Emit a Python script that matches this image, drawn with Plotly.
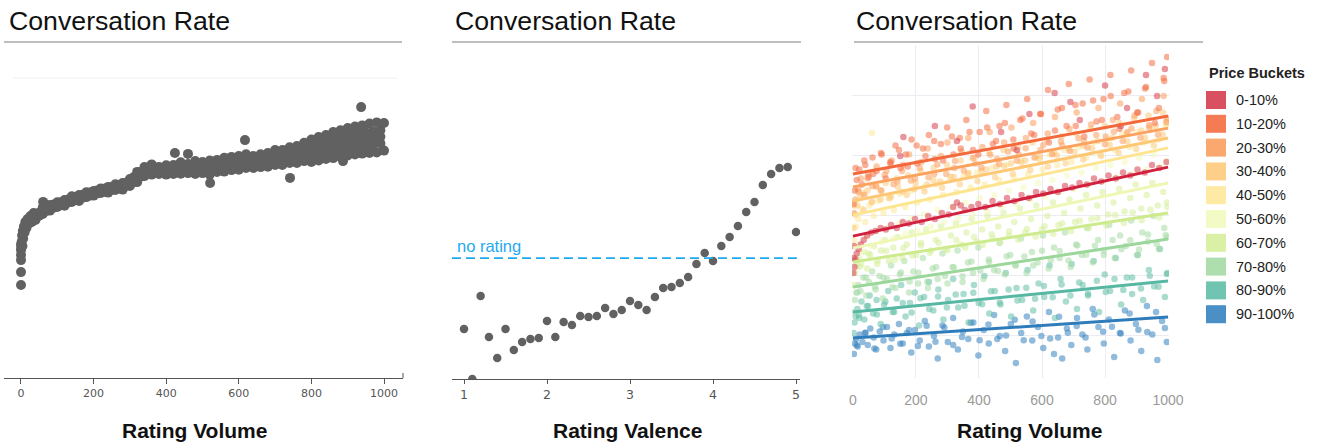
import plotly.graph_objects as go

W, H = 1319, 444


def PX(x):
    return x / W


def PY(y):
    return 1 - y / H


TITLE = "Conversation Rate"

# ---------------- Panel 1: Rating Volume (grey band) ----------------
vol_x_row = [40, 60, 80, 100, 120, 140, 160, 180, 200, 220, 240, 260, 280, 300, 320, 340, 360, 380,
             400, 420, 440, 460, 480, 500, 520, 540, 560, 580, 600, 620, 640, 660, 680, 700, 720,
             740, 760, 780, 800, 820, 840, 860, 880, 900, 920, 940, 960, 980, 1000]
vol_y_upper = [54.7, 56.8, 57.7, 58.6, 59.3, 60.6, 61.0, 61.9, 62.3, 63.2, 63.7, 64.6, 65.0, 66.3,
               68.7, 70.3, 71.2, 70.3, 70.9, 71.0, 71.9, 71.3, 72.3, 72.0, 72.5, 72.7, 73.4, 73.7,
               74.0, 74.6, 74.0, 74.6, 75.0, 76.0, 76.0, 76.9, 77.3, 78.4, 79.5, 80.3, 81.0, 82.0,
               82.6, 83.3, 83.8, 84.2, 84.8, 85.2, 85.0]
vol_y_lower = [52.7, 54.7, 55.8, 57.0, 57.4, 58.7, 59.0, 60.3, 60.8, 61.7, 61.8, 62.7, 62.8, 64.0,
               65.3, 67.3, 67.8, 68.0, 67.8, 68.0, 68.1, 68.3, 68.0, 68.3, 67.8, 68.7, 68.8, 69.3,
               69.4, 70.0, 70.0, 70.3, 70.4, 71.0, 71.0, 71.7, 71.7, 72.3, 72.0, 72.5, 73.0, 73.3,
               73.8, 74.2, 74.5, 74.8, 75.0, 75.2, 75.8]
vol_x_mid = [50, 70, 90, 110, 130, 150, 170, 190, 210, 230, 250, 270, 290, 310, 330, 350, 370, 390,
             410, 430, 450, 470, 490, 510, 530, 550, 570, 590, 610, 630, 650, 670, 690, 710, 730,
             750, 770, 790, 810, 830, 850, 870, 890, 910, 930, 950, 970, 990]
vol_y_mid = [54.6, 56.2, 57.3, 58.1, 59.0, 59.8, 60.6, 61.3, 62.0, 62.6, 63.2, 63.8, 64.6, 66.1,
             67.9, 69.1, 69.3, 69.3, 69.4, 69.8, 69.9, 70.0, 70.2, 70.2, 70.4, 70.9, 71.3, 71.7,
             72.0, 72.2, 72.2, 72.6, 73.1, 73.5, 73.9, 74.4, 74.9, 75.5, 76.1, 76.7, 77.3, 77.9,
             78.4, 78.8, 79.2, 79.6, 80.0, 80.4]
vol_y_mid_hi = [55.1, 56.7, 57.8, 58.6, 59.5, 60.3, 61.1, 61.8, 62.5, 63.1, 63.7, 64.3, 65.1,
                66.9, 68.7, 69.9, 70.1, 70.1, 70.2, 70.6, 70.7,
                71.0, 71.2, 71.2, 71.4, 71.9, 72.3, 72.7, 73.0, 73.2, 73.2,
                73.8, 74.3, 74.7, 75.1, 75.6, 76.1, 76.7,
                78.3, 78.9, 79.5, 80.1, 80.6, 81.0, 81.4, 81.8, 82.2, 82.6]
vol_y_mid_lo = [54.1, 55.7, 56.8, 57.6, 58.5, 59.3, 60.1, 60.8, 61.5, 62.1, 62.7, 63.3, 64.1,
                65.3, 67.1, 68.3, 68.5, 68.5, 68.6, 69.0, 69.1,
                69.0, 69.2, 69.2, 69.4, 69.9, 70.3, 70.7, 71.0, 71.2, 71.2,
                71.4, 71.9, 72.3, 72.7, 73.2, 73.7, 74.3,
                73.9, 74.5, 75.1, 75.7, 76.2, 76.6, 77.0, 77.4, 77.8, 78.2]
vol_x_start = [0, 0, 0, 0, 0, 0, 1, 2, 3, 4, 5, 6, 8, 10, 12, 15, 18, 22, 26, 30, 35, 61]
vol_y_start = [31.0, 35.3, 39.3, 41.0, 42.7, 44.5, 43.5, 45.5, 47.5, 44.0, 49.0, 46.5, 50.5, 48.5,
               52.0, 50.0, 53.0, 51.5, 54.0, 52.0, 55.0, 58.7]
vol_x_out = [937, 617, 741, 887, 521, 424, 460]
vol_y_out = [90.3, 79.3, 66.7, 72.3, 65.0, 75.0, 74.7]

# ---------------- Panel 2: Rating Valence ----------------
val_x = [1.0, 1.1, 1.2, 1.3, 1.4, 1.5, 1.6, 1.7, 1.8, 1.9, 2.0, 2.1, 2.2, 2.3, 2.4, 2.5, 2.6, 2.7,
         2.8, 2.9, 3.0, 3.1, 3.2, 3.3, 3.4, 3.5, 3.6, 3.7, 3.8, 3.9, 4.0, 4.1, 4.2, 4.3, 4.4, 4.5,
         4.6, 4.7, 4.8, 4.9, 5.0]
val_y = [16.7, 0.0, 27.7, 14.0, 7.0, 16.7, 9.7, 12.3, 13.3, 13.7, 19.3, 14.0, 19.0, 18.0, 21.0,
         20.7, 21.0, 23.7, 21.7, 23.0, 26.0, 24.7, 23.0, 27.3, 30.3, 30.7, 32.0, 34.0, 38.3, 42.0,
         39.3, 44.3, 47.3, 51.0, 55.7, 59.0, 64.7, 68.3, 70.3, 70.7, 49.0]
no_rating_level = 40.3
no_rating_label = "no rating"

# ---------------- Panel 3: Rating Volume by Price Bucket ----------------
bucket_names = ["0-10%", "10-20%", "20-30%", "30-40%", "40-50%",
                "50-60%", "60-70%", "70-80%", "80-90%", "90-100%"]
bucket_colors = ["#d53e4f", "#f46d43", "#fb9e5f", "#fdca7c", "#fee89a",
                 "#f3f9c0", "#d5ee9b", "#a5daa5", "#62bea6", "#3683bf"]
line_colors = ["#d2203f", "#f3693c", "#fba35e", "#fdc774", "#fde58f",
               "#eef7b4", "#cdea8c", "#9bd69b", "#56b7a2", "#2f7cbb"]
fit_x = [0, 1000]
fit_y_start = [47.3, 68.0, 63.7, 59.0, 54.3, 43.3, 38.7, 30.3, 22.0, 13.3]
fit_y_end = [70.3, 87.3, 83.3, 80.0, 76.7, 65.0, 55.0, 46.3, 32.3, 20.3]

b0_x = [1, 2, 3, 5, 8, 12, 18, 25, 34, 45, 58, 72, 88, 104, 121, 139, 158, 177, 197, 218, 239, 260,
        282, 304, 318, 330, 342, 355, 376, 398, 420, 443, 466, 489, 512, 535, 558, 581, 604, 627,
        650, 673, 696, 719, 742, 765, 788, 811, 834, 857, 880, 903, 926, 949, 972, 995,
        150, 160, 260, 330, 380, 470, 520, 560, 640, 690, 720, 800, 850, 870, 930, 965, 990]
b0_y = [35.0, 40.0, 44.0, 37.0, 39.5, 41.5, 43.0, 44.5, 46.0, 47.5, 48.5, 49.0, 50.0, 49.5, 51.0,
        50.0, 52.0, 51.5, 53.0, 52.0, 54.0, 53.0, 55.0, 54.5, 57.0, 58.5, 57.5, 56.0, 57.0, 58.0,
        57.0, 59.0, 58.0, 60.0, 59.0, 61.0, 60.0, 62.0, 61.5, 63.0, 62.0, 64.0, 63.5, 65.0, 64.5,
        66.5, 65.5, 67.5, 66.5, 68.5, 67.5, 69.5, 68.5, 71.0, 70.0, 72.0,
        74.0, 80.3, 84.0, 79.0, 90.5, 82.0, 76.0, 88.0, 95.0, 92.0, 86.0, 97.5, 84.0, 90.0, 101.0,
        94.0, 103.0]
b1_x = [2, 6, 12, 20, 29, 39, 50, 62, 75, 89, 104, 119, 135, 151, 168, 186, 204, 222, 241, 260, 279,
        299, 319, 339, 360, 381, 402, 423, 444, 465, 487, 509, 531, 553, 575, 597, 619, 641, 663,
        685, 707, 729, 751, 773, 795, 817, 839, 861, 883, 905, 927, 949, 971, 988, 997,
        8, 36, 64, 91, 119, 146, 174, 202, 230, 258, 286, 314, 342, 370, 398, 426, 454, 482, 510,
        538, 566, 594, 622, 650, 678, 706, 734, 762, 790, 818, 846, 874, 902, 930, 958, 986]
b1_y = [58.0, 62.5, 66.0, 69.5, 64.5, 71.0, 67.0, 73.5, 69.0, 75.0, 66.5, 72.0, 77.5, 70.0, 74.5,
        79.5, 71.5, 76.5, 81.0, 73.0, 78.0, 83.5, 74.5, 80.0, 86.0, 76.0, 82.0, 89.0, 78.0, 84.0,
        91.0, 79.5, 86.0, 93.0, 81.0, 88.0, 96.0, 82.5, 90.0, 98.0, 84.0, 91.5, 99.5, 85.5, 93.0,
        101.0, 87.0, 95.0, 102.5, 88.5, 96.5, 105.0, 90.0, 99.0, 107.0,
        70.0, 72.5, 68.0, 74.5, 71.5, 76.0, 70.5, 77.5, 74.0, 79.0, 72.5, 80.5, 76.5, 82.0, 74.5,
        83.5, 79.0, 85.0, 76.5, 86.5, 81.5, 88.0, 78.5, 89.5, 84.0, 91.0, 80.5, 92.5, 86.0, 94.0,
        83.0, 95.5, 88.5, 97.0, 85.0, 100.0]
b2_x = [3, 8, 16, 25, 36, 48, 61, 75, 90, 106, 123, 141, 159, 178, 197, 217, 237, 258, 279, 300,
        322, 344, 366, 388, 411, 434, 457, 480, 503, 526, 549, 572, 595, 618, 641, 664, 687, 710,
        733, 756, 779, 802, 825, 848, 871, 894, 917, 940, 963, 986, 998,
        18, 46, 74, 101, 129, 156, 184, 212, 240, 268, 296, 324, 352, 380, 408, 436, 464, 492, 520,
        548, 576, 604, 632, 660, 688, 716, 744, 772, 800, 828, 856, 884, 912, 940, 968, 994]
b2_y = [55.0, 59.5, 63.0, 66.5, 61.0, 68.0, 64.0, 70.5, 62.5, 69.0, 72.5, 65.5, 71.0, 74.5, 66.5,
        72.0, 76.5, 68.0, 74.0, 78.5, 70.0, 75.5, 80.0, 71.5, 77.0, 82.0, 73.0, 78.5, 83.5, 74.5,
        80.0, 85.0, 76.0, 81.5, 87.0, 77.5, 83.0, 88.5, 79.0, 84.5, 90.0, 80.5, 86.0, 91.5, 82.0,
        87.5, 93.0, 83.5, 89.0, 94.0, 86.5,
        62.0, 66.5, 63.8, 67.7, 64.6, 69.0, 65.8, 70.0, 66.9, 71.2, 68.0, 72.3, 69.1, 73.3, 70.2,
        74.4, 71.3, 75.5, 72.4, 76.6, 73.5, 77.7, 74.6, 78.8, 75.7, 79.9, 76.8, 81.0, 77.9, 82.1,
        79.0, 83.2, 80.1, 84.3, 81.2, 85.4]
b3_x = [2, 7, 14, 23, 34, 46, 59, 73, 88, 104, 121, 139, 157, 176, 195, 215, 235, 256, 277, 298,
        320, 342, 364, 386, 409, 432, 455, 478, 501, 524, 547, 570, 593, 616, 639, 662, 685, 708,
        731, 754, 777, 800, 823, 846, 869, 892, 915, 938, 961, 984, 997,
        5, 33, 61, 88, 116, 143, 171, 199, 227, 255, 283, 311, 339, 367, 395, 423, 451, 479, 507,
        535, 563, 591, 619, 647, 675, 703, 731, 759, 787, 815, 843, 871, 899, 927, 955, 983]
b3_y = [50.0, 54.5, 57.5, 61.0, 56.0, 62.5, 58.5, 64.0, 59.5, 65.0, 60.5, 66.5, 62.0, 67.5, 63.0,
        69.0, 64.5, 70.0, 65.5, 71.0, 67.0, 72.5, 68.0, 73.5, 69.0, 75.0, 70.5, 76.0, 71.5, 77.0,
        72.5, 78.5, 74.0, 79.5, 75.0, 80.5, 76.5, 81.5, 77.5, 83.0, 79.0, 84.0, 80.0, 85.0, 81.5,
        86.5, 82.5, 87.5, 84.0, 88.5, 85.0,
        57.5, 61.5, 58.8, 62.5, 59.9, 63.7, 61.0, 64.9, 62.2, 66.0, 63.4, 67.1, 64.6, 68.3, 65.7,
        69.5, 66.9, 70.7, 68.1, 71.8, 69.3, 73.0, 70.4, 74.2, 71.6, 75.4, 72.8, 76.5, 74.0, 77.7,
        75.1, 78.9, 76.3, 80.1, 77.5, 81.2]
b4_x = [3, 9, 17, 27, 39, 52, 60, 66, 81, 97, 113, 130, 148, 166, 185, 204, 224, 244, 265, 286,
        307, 329, 351, 373, 395, 418, 441, 464, 487, 510, 533, 556, 579, 602, 625, 648, 671, 694,
        717, 740, 763, 786, 809, 832, 855, 878, 901, 924, 947, 970, 993]
b4_y = [46.0, 50.5, 53.0, 56.5, 52.0, 57.5, 81.7, 54.0, 59.0, 55.0, 60.0, 56.0, 61.5, 57.0, 62.5,
        58.5, 63.5, 59.5, 64.5, 61.0, 66.0, 62.0, 67.0, 63.5, 68.5, 64.5, 70.0, 66.0, 71.0, 67.0,
        72.5, 68.0, 73.5, 69.5, 74.5, 71.0, 76.0, 72.0, 77.0, 73.5, 78.5, 74.5, 79.5, 76.0, 81.0,
        77.0, 82.0, 78.5, 83.0, 79.5, 84.0]
b5_x = [4, 15, 29, 43, 58, 74, 91, 109, 127, 146, 165, 185, 205, 226, 247, 268, 290, 312, 334, 357,
        380, 403, 426, 449, 472, 495, 518, 541, 564, 587, 610, 633, 656, 679, 702, 725, 748, 771,
        794, 817, 840, 863, 886, 909, 932, 955, 978, 996]
b5_y = [40.0, 44.5, 42.0, 47.0, 44.0, 49.0, 45.5, 50.0, 46.5, 51.5, 48.0, 53.0, 49.0, 54.5, 50.5,
        56.0, 52.0, 57.0, 53.0, 58.5, 54.5, 60.0, 55.5, 61.0, 57.0, 62.5, 58.0, 63.5, 59.5, 65.0,
        60.5, 66.0, 62.0, 67.5, 63.0, 68.5, 64.5, 70.0, 65.5, 71.0, 67.0, 72.0, 68.0, 73.5, 69.5,
        74.5, 70.5, 72.5]
b6_x = [3, 7, 12, 18, 26, 35, 45, 55, 66, 77, 89, 101, 114, 128, 142, 156, 171, 186, 201, 216, 232,
        247, 263, 279, 295, 311, 327, 344, 360, 377, 393, 410, 427, 444, 461, 478, 495, 512, 530,
        547, 565, 582, 600, 617, 635, 652, 670, 687, 705, 722, 740, 757, 775, 792, 810, 827, 845,
        862, 880, 897, 915, 932, 950, 967, 985, 997,
        22, 50, 78, 105, 133, 160, 188, 216, 244, 272, 300, 328, 356, 384, 412, 440, 468, 496, 524,
        552, 580, 608, 636, 664, 692, 720, 748, 776, 804, 832, 860, 888, 916, 944, 972, 998]
b6_y = [31.0, 35.0, 37.5, 40.0, 38.0, 42.0, 36.5, 41.0, 44.0, 38.0, 42.5, 46.0, 39.0, 43.5, 47.0,
        40.0, 44.5, 48.5, 41.0, 45.0, 49.5, 42.5, 46.0, 50.5, 43.0, 47.5, 51.5, 44.5, 48.5, 53.0,
        45.5, 49.5, 54.0, 46.5, 50.5, 55.0, 47.5, 52.0, 56.5, 48.5, 53.0, 57.5, 49.5, 54.0, 58.5,
        51.0, 55.0, 59.5, 52.0, 56.5, 61.0, 53.0, 57.5, 62.0, 54.5, 58.5, 63.0, 55.5, 60.0, 64.5,
        56.5, 61.0, 65.0, 57.5, 62.0, 58.5,
        37.1, 41.5, 39.0, 42.4, 39.4, 43.3, 40.8, 44.2, 41.7, 45.1, 42.6, 46.0, 43.5, 47.0, 44.4,
        47.9, 45.3, 48.8, 46.2, 49.7, 47.2, 50.6, 48.1, 51.5, 49.0, 52.4, 49.9, 53.3, 50.8, 54.3,
        51.7, 55.2, 52.6, 56.1, 53.5, 57.0]
b7_x = [2, 6, 11, 17, 24, 33, 42, 51, 61, 72, 84, 95, 108, 121, 135, 149, 163, 178, 192, 207, 222,
        238, 253, 269, 284, 300, 316, 332, 348, 365, 381, 398, 414, 431, 448, 465, 482, 499, 516,
        533, 551, 568, 586, 603, 621, 638, 656, 673, 691, 708, 726, 743, 761, 778, 796, 813, 831,
        848, 866, 883, 901, 918, 936, 953, 971, 988, 998,
        14, 42, 70, 97, 125, 152, 180, 208, 236, 264, 292, 320, 348, 376, 404, 432, 460, 488, 516,
        544, 572, 600, 628, 656, 684, 712, 740, 768, 796, 824, 852, 880, 908, 936, 964, 992]
b7_y = [22.0, 26.0, 28.5, 31.0, 29.0, 33.5, 27.5, 32.0, 35.5, 29.5, 34.0, 26.5, 33.0, 37.5, 30.0,
        34.5, 39.0, 28.5, 35.5, 31.5, 40.0, 30.0, 36.5, 33.0, 41.5, 31.5, 37.0, 42.5, 32.0, 38.5,
        35.0, 43.5, 33.0, 39.5, 36.0, 45.0, 34.5, 41.0, 37.5, 46.5, 35.0, 42.0, 38.5, 47.5, 36.5,
        43.5, 40.0, 48.5, 37.0, 44.5, 41.0, 50.0, 38.5, 46.0, 42.5, 51.0, 40.0, 47.5, 44.0, 52.5,
        41.0, 48.5, 45.5, 54.0, 43.0, 50.0, 47.0,
        28.5, 33.5, 30.4, 33.4, 30.3, 35.2, 32.2, 35.1, 32.1, 37.0, 34.0, 36.9, 33.9, 38.8, 35.8,
        38.7, 35.7, 40.6, 37.6, 40.5, 37.5, 42.4, 39.3, 42.3, 39.2, 44.2, 41.1, 44.1, 41.0, 46.0,
        42.9, 45.9, 42.8, 47.8, 44.7, 47.7]
b8_x = [2, 5, 9, 14, 19, 27, 36, 44, 53, 64, 75, 88, 99, 112, 126, 139, 153, 167, 181, 196, 210,
        226, 241, 255, 271, 287, 302, 318, 334, 351, 367, 384, 399, 417, 433, 450, 468, 485, 502,
        519, 537, 554, 572, 589, 607, 624, 641, 659, 676, 694, 711, 729, 746, 764, 781, 799, 816,
        834, 851, 869, 886, 904, 921, 939, 956, 974, 990, 998,
        20, 48, 76, 103, 131, 158, 186, 214, 242, 270, 298, 326, 354, 382, 410, 438, 466, 494, 522,
        550, 578, 606, 634, 662, 690, 718, 746, 774, 802, 830, 858, 886, 914, 942, 970, 996]
b8_y = [15.0, 18.5, 20.5, 23.0, 21.0, 25.5, 19.5, 24.0, 27.5, 21.5, 26.0, 18.0, 24.5, 29.0, 22.0,
        26.5, 31.0, 20.5, 25.0, 28.5, 17.5, 27.0, 32.0, 22.5, 29.5, 19.5, 26.0, 33.0, 23.5, 28.0,
        18.5, 31.0, 25.0, 34.0, 21.5, 29.0, 24.5, 35.0, 20.5, 30.0, 26.0, 36.0, 22.5, 31.5, 27.0,
        37.5, 20.0, 33.0, 25.5, 38.0, 23.0, 31.0, 27.5, 39.0, 22.0, 34.5, 29.0, 40.0, 24.5, 33.5,
        28.0, 41.0, 26.0, 36.0, 30.5, 43.0, 27.0, 35.0,
        20.0, 24.0, 21.2, 25.5, 22.0, 25.0, 21.8, 26.6, 23.0, 27.2, 23.5, 27.8, 24.1, 28.4, 24.6,
        28.9, 25.2, 29.5, 25.8, 30.1, 26.4, 30.7, 26.9, 31.2, 27.5, 31.8, 28.1, 32.4, 28.7, 33.0,
        29.3, 33.5, 29.8, 34.1, 30.4, 34.7]
b9_x = [3, 6, 10, 15, 21, 30, 38, 47, 55, 66, 74, 85, 97, 108, 119, 131, 146, 158, 171, 185, 197,
        212, 228, 241, 257, 269, 284, 301, 318, 333, 349, 366, 382, 398, 415, 431, 448, 466, 483,
        501, 517, 534, 552, 569, 587, 604, 622, 638, 651, 664, 679, 693, 711, 728, 744, 761, 779,
        796, 812, 829, 847, 863, 881, 898, 915, 933, 950, 966, 981, 996,
        12, 40, 68, 95, 123, 150, 178, 206, 234, 262, 290, 318, 346, 374, 402, 430, 458, 486, 514,
        542, 570, 598, 626, 654, 682, 710, 738, 766, 794, 822, 850, 878, 906, 934, 962, 990]
b9_y = [8.0, 11.5, 13.0, 10.5, 14.5, 12.0, 15.0, 11.0, 16.5, 13.5, 9.5, 15.5, 12.5, 17.0, 10.0,
        14.5, 18.0, 11.5, 15.0, 8.5, 16.0, 12.5, 19.0, 10.5, 14.0, 6.5, 17.5, 12.0, 20.0, 9.5, 15.5,
        13.0, 18.5, 7.5, 16.0, 11.5, 21.0, 14.0, 9.0, 18.0, 5.0, 15.0, 20.5, 12.5, 17.0, 10.0, 22.0,
        8.0, 13.5, 6.5, 16.5, 11.0, 20.0, 14.5, 9.5, 23.0, 17.0, 11.5, 19.5, 7.0, 15.0, 22.5, 12.5,
        18.0, 9.0, 24.0, 14.5, 6.0, 19.0, 12.0,
        10.9, 15.1, 9.8, 17.0, 13.2, 11.4, 16.0, 10.7, 17.4, 12.1, 16.8, 11.0, 13.7, 18.4, 12.6,
        17.8, 13.0, 14.2, 19.4, 12.6, 18.8, 14.0, 13.2, 20.4, 15.1, 17.3, 13.5, 21.2, 15.4, 17.1,
        14.8, 21.5, 16.1, 15.3, 22.0, 16.7]

bucket_xs = [b0_x, b1_x, b2_x, b3_x, b4_x, b5_x, b6_x, b7_x, b8_x, b9_x]
bucket_ys = [b0_y, b1_y, b2_y, b3_y, b4_y, b5_y, b6_y, b7_y, b8_y, b9_y]

vol_ticks = [0, 200, 400, 600, 800, 1000]
val_ticks = [1, 2, 3, 4, 5]

# ---------------- Figure ----------------
fig = go.Figure()
GREY = "#616161"

for xs, ys in [(vol_x_start, vol_y_start), (vol_x_row, vol_y_lower), (vol_x_mid, vol_y_mid_lo),
               (vol_x_mid, vol_y_mid), (vol_x_mid, vol_y_mid_hi), (vol_x_row, vol_y_upper),
               (vol_x_out, vol_y_out)]:
    fig.add_trace(go.Scatter(x=xs, y=ys, mode="markers", xaxis="x", yaxis="y",
                             marker=dict(size=10, color=GREY, line=dict(width=0)),
                             showlegend=False, hoverinfo="skip"))

fig.add_trace(go.Scatter(x=val_x, y=val_y, mode="markers", xaxis="x2", yaxis="y2",
                         marker=dict(size=8.5, color=GREY, line=dict(width=0)), showlegend=False))

for i in range(len(bucket_names) - 1, -1, -1):
    fig.add_trace(go.Scatter(x=bucket_xs[i], y=bucket_ys[i], mode="markers", xaxis="x3", yaxis="y3",
                             marker=dict(size=6.5, color=bucket_colors[i], opacity=0.55,
                                         line=dict(width=0)),
                             name=bucket_names[i], showlegend=False))
for i in range(len(bucket_names) - 1, -1, -1):
    fig.add_trace(go.Scatter(x=fit_x, y=[fit_y_start[i], fit_y_end[i]], mode="lines",
                             xaxis="x3", yaxis="y3", line=dict(color=line_colors[i], width=3),
                             showlegend=False, hoverinfo="skip"))

tickfont_small = dict(family="DejaVu Sans", size=11, color="#555555")

fig.update_layout(
    template="none",
    width=W, height=H, margin=dict(l=0, r=0, t=0, b=0, pad=0, autoexpand=False), autosize=False,
    paper_bgcolor="white", plot_bgcolor="white", showlegend=False,
    font=dict(family="Liberation Sans", color="#222222"),
    xaxis=dict(domain=[PX(4), PX(403)], range=[-46.8, 1052.3], anchor="y", automargin=False,
               showline=True, linecolor="#555555", linewidth=1, ticks="outside", ticklen=5,
               tickcolor="#555555", tickvals=vol_ticks, tickfont=tickfont_small,
               showgrid=False, zeroline=False),
    yaxis=dict(domain=[PY(378), PY(78)], range=[0, 100], anchor="x", visible=False,
               automargin=False),
    xaxis2=dict(domain=[PX(452), PX(800)], range=[0.855, 5.048], anchor="y2", automargin=False,
                showline=True, linecolor="#555555", linewidth=1, ticks="outside", ticklen=4,
                tickcolor="#555555", tickvals=val_ticks,
                tickfont=dict(family="DejaVu Sans", size=12.5, color="#555555"),
                showgrid=False, zeroline=False),
    yaxis2=dict(domain=[PY(379), PY(79)], range=[0, 100], anchor="x2", visible=False,
                automargin=False),
    xaxis3=dict(domain=[PX(852), PX(1169)], range=[-3, 1003], anchor="y3", automargin=False,
                showline=False, ticks="outside", ticklen=9, tickcolor="rgba(0,0,0,0)",
                tickvals=vol_ticks, tickfont=dict(family="Liberation Sans", size=14, color="#9a9a9a"),
                showgrid=True, gridcolor="#ececf2", gridwidth=1, zeroline=False),
    yaxis3=dict(domain=[PY(378), PY(45)], range=[0, 111], anchor="x3", automargin=False,
                showticklabels=False, ticks="", showline=False, zeroline=False,
                showgrid=True, gridcolor="#ececf2", tick0=14.33, dtick=20),
)

shapes = []
annotations = []

# titles + dividers
for tx, lx0, lx1 in [(7, 4, 402), (453, 452, 801), (854, 854, 1203)]:
    annotations.append(dict(text=TITLE, x=PX(tx), y=PY(21), xref="paper", yref="paper",
                            xanchor="left", yanchor="middle", showarrow=False,
                            font=dict(family="Liberation Sans", size=26.7, color="#111111")))
    shapes.append(dict(type="line", xref="paper", yref="paper", x0=PX(lx0), x1=PX(lx1),
                       y0=PY(42), y1=PY(42), line=dict(color="#a8a8a8", width=1.5)))

# axis titles
for txt, cx in [("Rating Volume", 194), ("Rating Valence", 627), ("Rating Volume", 1029)]:
    annotations.append(dict(text="<b>" + txt + "</b>", x=PX(cx), y=PY(430), xref="paper",
                            yref="paper", xanchor="center", yanchor="middle", showarrow=False,
                            font=dict(family="Liberation Sans", size=21, color="#111111")))

# panel 1 faint top line and right end tick
shapes.append(dict(type="line", xref="paper", yref="paper", x0=PX(13), x1=PX(397),
                   y0=PY(78), y1=PY(78), line=dict(color="#f0f0f0", width=1)))
shapes.append(dict(type="line", xref="paper", yref="paper", x0=PX(403), x1=PX(403),
                   y0=PY(373), y1=PY(378), line=dict(color="#555555", width=1)))

# panel 2 no-rating reference
shapes.append(dict(type="line", xref="x2", yref="y2", x0=0.855, x1=5.01,
                   y0=no_rating_level, y1=no_rating_level,
                   line=dict(color="#1faaf0", width=1.6, dash="9px,5px")))
annotations.append(dict(text=no_rating_label, x=0.89, y=no_rating_level + 4.0, xref="x2",
                        yref="y2", xanchor="left", yanchor="middle", showarrow=False,
                        font=dict(family="Liberation Sans", size=16.5, color="#1faaf0")))

# panel 3 legend
annotations.append(dict(text="<b>Price Buckets</b>", x=PX(1207), y=PY(73), xref="paper",
                        yref="paper", xanchor="left", yanchor="middle", showarrow=False,
                        font=dict(family="Liberation Sans", size=14.5, color="#222222")))
for i, (name, col) in enumerate(zip(bucket_names, bucket_colors)):
    yc = 100 + i * 23.8
    shapes.append(dict(type="rect", xref="paper", yref="paper", x0=PX(1206), x1=PX(1226),
                       y0=PY(yc + 9), y1=PY(yc - 9), fillcolor=col, opacity=0.9,
                       line=dict(width=0)))
    annotations.append(dict(text=name, x=PX(1234), y=PY(yc), xref="paper", yref="paper",
                            xanchor="left", yanchor="middle", showarrow=False,
                            font=dict(family="Liberation Sans", size=14.5, color="#222222")))

fig.update_layout(shapes=shapes, annotations=annotations)
fig.write_html(
    "out.html",
    config={"responsive": False, "displayModeBar": False},
    post_script="document.body.style.margin='0';document.body.style.overflow='hidden';",
)
